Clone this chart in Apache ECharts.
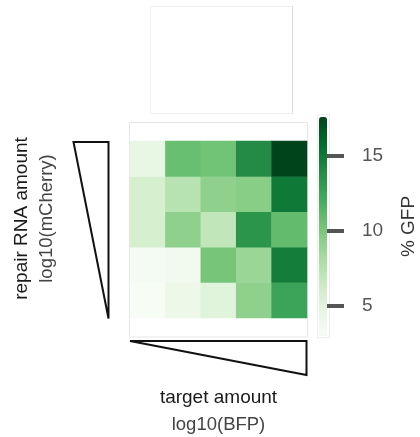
<!DOCTYPE html>
<html>
<head>
<meta charset="utf-8">
<script src="https://cdn.jsdelivr.net/npm/echarts@6/dist/echarts.min.js"></script>
<style>
  html, body { margin: 0; padding: 0; background: #ffffff; }
  #chart { width: 420px; height: 437px; }
</style>
</head>
<body>
<div id="chart"></div>
<script>
// Target (BFP) dose levels, low -> high, left to right
const targetLevels = ['T1', 'T2', 'T3', 'T4', 'T5'];
// Repair RNA (mCherry) dose levels, low -> high, bottom to top
const repairLevels = ['R1', 'R2', 'R3', 'R4', 'R5'];

// % GFP per repair level, one value per target level
const gfpRepair1 = [3.0, 4.0, 5.1, 9.2, 12.5];
const gfpRepair2 = [3.3, 3.5, 10.2, 8.75, 14.8];
const gfpRepair3 = [5.8, 9.2, 7.0, 13.4, 10.9];
const gfpRepair4 = [5.8, 7.4, 9.2, 9.45, 15.0];
const gfpRepair5 = [4.5, 10.7, 10.4, 13.95, 17.6];

// Colour scale range and colour bar ticks
const gfpMin = 3.0;
const gfpMax = 17.6;
const colorbarTicks = [5, 10, 15];

const greens = ['#f7fcf5', '#e5f5e0', '#c7e9c0', '#a1d99b', '#74c476',
                '#41ab5d', '#238b45', '#006d2c', '#00441b'];

const rows = [gfpRepair1, gfpRepair2, gfpRepair3, gfpRepair4, gfpRepair5];
const cells = [];
rows.forEach((row, yi) => {
  row.forEach((v, xi) => cells.push([xi, yi, v]));
});

const font = '"Liberation Sans", Arial, Helvetica, sans-serif';

const chart = echarts.init(document.getElementById('chart'), null, { renderer: 'canvas' });

chart.setOption({
  animation: false,
  backgroundColor: '#ffffff',
  textStyle: { fontFamily: font },
  grid: [
    { left: 130, top: 141, width: 177, height: 177, containLabel: false },
    { left: 319, top: 117, width: 8, height: 219, containLabel: false }
  ],
  xAxis: [
    {
      gridIndex: 0,
      type: 'category',
      data: targetLevels,
      axisLine: { show: false },
      axisTick: { show: false },
      axisLabel: { show: false },
      splitLine: { show: false },
      name: '{a|target amount}\n{b|log10(BFP)}',
      nameLocation: 'middle',
      nameGap: 66,
      nameTextStyle: {
        rich: {
          a: { fontSize: 19, color: '#1a1a1a', fontFamily: font, lineHeight: 27 },
          b: { fontSize: 18.5, color: '#444444', fontFamily: font, lineHeight: 27 }
        }
      }
    },
    {
      gridIndex: 1,
      type: 'value',
      show: false
    }
  ],
  yAxis: [
    {
      gridIndex: 0,
      type: 'category',
      data: repairLevels,
      axisLine: { show: false },
      axisTick: { show: false },
      axisLabel: { show: false },
      splitLine: { show: false },
      name: '{a|repair RNA amount}\n{b|log10(mCherry)}',
      nameLocation: 'middle',
      nameRotate: 90,
      nameGap: 71,
      nameTextStyle: {
        padding: [0, 0, 0, 22],
        rich: {
          a: { fontSize: 19, color: '#1a1a1a', fontFamily: font, lineHeight: 25 },
          b: { fontSize: 18.5, color: '#444444', fontFamily: font, lineHeight: 25 }
        }
      }
    },
    {
      gridIndex: 1,
      type: 'value',
      position: 'right',
      min: gfpMin,
      max: gfpMax,
      axisLine: { show: false },
      axisTick: {
        show: true,
        length: 25,
        customValues: colorbarTicks,
        lineStyle: { color: '#555555', width: 4 }
      },
      axisLabel: {
        show: true,
        customValues: colorbarTicks,
        margin: 35,
        fontSize: 19,
        color: '#555555',
        fontFamily: font
      },
      splitLine: { show: false },
      name: '% GFP',
      nameLocation: 'middle',
      nameRotate: 90,
      nameGap: 72,
      nameTextStyle: { fontSize: 19, color: '#333333', fontFamily: font }
    }
  ],
  visualMap: {
    type: 'continuous',
    seriesIndex: 0,
    min: gfpMin,
    max: gfpMax,
    calculable: false,
    hoverLink: false,
    text: null,
    showLabel: false,
    orient: 'vertical',
    left: 319,
    top: 117,
    itemWidth: 8,
    itemHeight: 219,
    padding: 0,
    inRange: { color: greens }
  },
  graphic: [
    // faint frame around the heat map panel
    { type: 'rect', shape: { x: 129.5, y: 122.5, width: 178, height: 214.5 },
      style: { fill: null, stroke: '#e6e6e6', lineWidth: 1 }, silent: true, z: -1 },
    // empty panel above the heat map
    { type: 'rect', shape: { x: 150.5, y: 6.5, width: 142, height: 107 },
      style: { fill: null, stroke: '#f0f0f0', lineWidth: 1 }, silent: true, z: -1 },
    { type: 'line', shape: { x1: 292.5, y1: 6, x2: 292.5, y2: 113.5 },
      style: { stroke: '#dcdcdc', lineWidth: 1 }, silent: true, z: -1 },
    // faint frame around the colour bar
    { type: 'rect', shape: { x: 317.5, y: 114.5, width: 12, height: 223 },
      style: { fill: null, stroke: '#ededed', lineWidth: 1 }, silent: true, z: -1 },
    // wedge for repair RNA dose
    { type: 'polygon', shape: { points: [[73.5, 142], [108.5, 142], [108.5, 318.5]] },
      style: { fill: null, stroke: '#111111', lineWidth: 2, lineJoin: 'miter' }, silent: true },
    // wedge for target dose
    { type: 'polygon', shape: { points: [[130, 341], [306.5, 341], [306.5, 375]] },
      style: { fill: null, stroke: '#111111', lineWidth: 2, lineJoin: 'miter' }, silent: true }
  ],
  series: [
    {
      type: 'heatmap',
      xAxisIndex: 0,
      yAxisIndex: 0,
      data: cells,
      itemStyle: { borderWidth: 0 },
      emphasis: { disabled: true },
      label: { show: false }
    }
  ]
});
</script>
</body>
</html>
